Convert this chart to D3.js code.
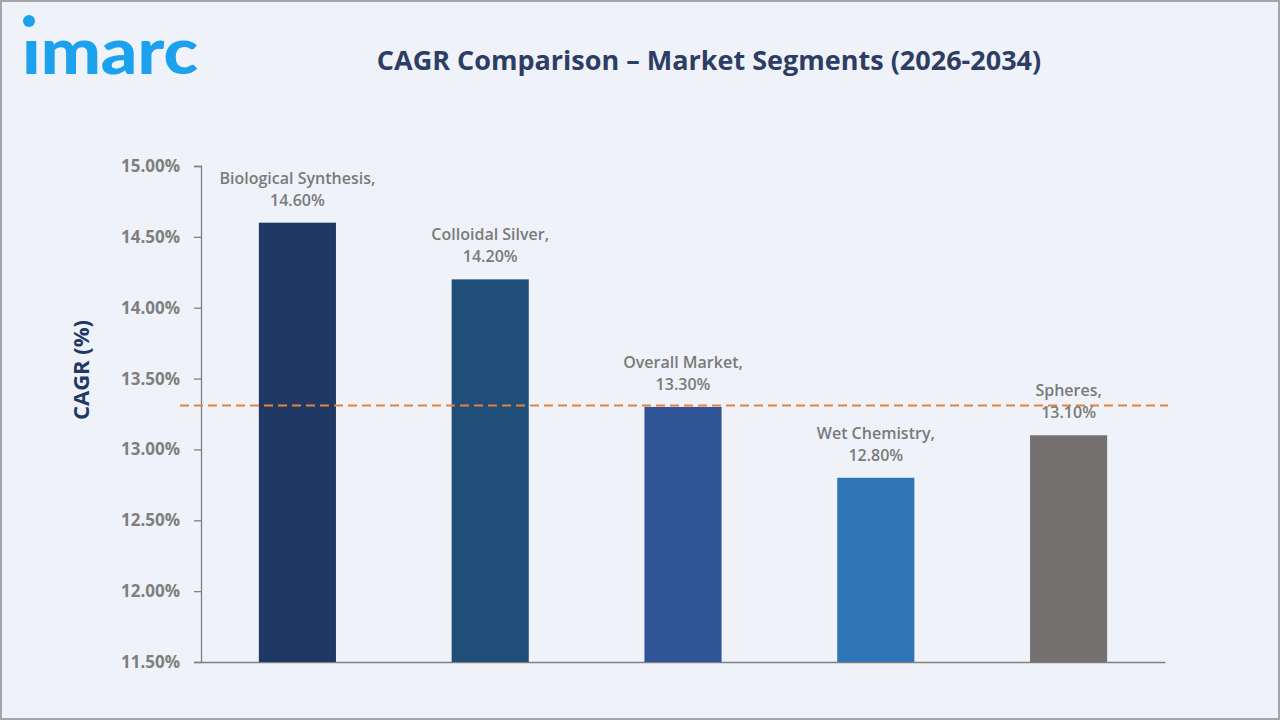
<!DOCTYPE html>
<html><head><meta charset="utf-8">
<script src="https://cdn.jsdelivr.net/npm/d3@7"></script>
<style>html,body{margin:0;padding:0;background:#eff3f9;}svg{display:block;}</style>
</head><body><svg id="c" width="1280" height="720"></svg>
<script>
const categories = ["Biological Synthesis", "Colloidal Silver", "Overall Market", "Wet Chemistry", "Spheres"];
const values = [14.60, 14.20, 13.30, 12.80, 13.10];
const barColors = ["#1f3864", "#1f4e79", "#2f5597", "#2e75b6", "#767171"];
const yTicks = [11.5, 12.0, 12.5, 13.0, 13.5, 14.0, 14.5, 15.0];
const referenceValue = 13.31;
const title = "CAGR Comparison – Market Segments (2026-2034)";
const yTitle = "CAGR (%)";

const svg = d3.select("#c");
svg.append("rect").attr("x",1).attr("y",1).attr("width",1278).attr("height",718)
  .attr("fill","#eff3f9").attr("stroke","#a6a6a6").attr("stroke-width",2);

// logo
const logo = svg.append("g");
logo.append("text").attr("x",22).attr("y",74).attr("font-family","Lato").attr("font-weight",900)
  .attr("font-size",62).attr("fill","#1ba1ee").attr("textLength",176).attr("lengthAdjust","spacingAndGlyphs")
  .text("ımarc");
logo.append("circle").attr("cx",29).attr("cy",21).attr("r",6).attr("fill","#1ba1ee");

svg.append("text").attr("x",709).attr("y",70).attr("text-anchor","middle")
  .attr("font-family","Open Sans").attr("font-weight",700).attr("font-size",27)
  .attr("fill","#2e3d63").text(title);

const x0 = 201, x1 = 1165, yTop = 166, yBot = 662;
const x = d3.scaleBand().domain(categories).range([x0, x1]).paddingInner(0.6).paddingOuter(0.3);
const y = d3.scaleLinear().domain([11.5, 15]).range([yBot, yTop]);

const yAxis = d3.axisLeft(y).tickValues(yTicks).tickSize(7).tickPadding(14).tickFormat(d => d3.format(".2f")(d) + "%");
const gy = svg.append("g").attr("transform",`translate(${x0},0)`).call(yAxis);
gy.select(".domain").attr("stroke","#7f7f7f").attr("stroke-width",1.3);
gy.selectAll(".tick line").attr("stroke","#7f7f7f").attr("stroke-width",1.3);
gy.selectAll(".tick text").attr("font-family","Open Sans").attr("font-weight",700).attr("font-size",17).attr("fill","#7f7f7f");

const xAxis = d3.axisBottom(x).tickSize(0).tickFormat("");
const gx = svg.append("g").attr("transform",`translate(0,${yBot})`).call(xAxis);
gx.select(".domain").attr("stroke","#7f7f7f").attr("stroke-width",1.3);

svg.append("text").attr("transform",`translate(89,370) rotate(-90)`).attr("text-anchor","middle")
  .attr("font-family","Open Sans").attr("font-weight",700).attr("font-size",22).attr("fill","#1f3864").text(yTitle);

svg.selectAll("rect.bar").data(categories).join("rect").attr("class","bar")
  .attr("x", d => x(d)).attr("width", x.bandwidth())
  .attr("y", (d,i) => y(values[i])).attr("height", (d,i) => yBot - y(values[i]))
  .attr("fill", (d,i) => barColors[i]);

svg.append("line").attr("x1",180).attr("x2",1168).attr("y1",y(referenceValue)).attr("y2",y(referenceValue))
  .attr("stroke","#e8823a").attr("stroke-width",2).attr("stroke-dasharray","9,5");

const lab = svg.selectAll("g.lab").data(categories).join("g").attr("class","lab");
lab.append("text").attr("x", d => x(d) + x.bandwidth()/2).attr("y", (d,i) => y(values[i]) - 39)
  .attr("text-anchor","middle").attr("font-family","Open Sans").attr("font-weight",600).attr("font-size",16)
  .attr("fill","#7a7a7a").text(d => d + ",");
lab.append("text").attr("x", d => x(d) + x.bandwidth()/2).attr("y", (d,i) => y(values[i]) - 17)
  .attr("text-anchor","middle").attr("font-family","Open Sans").attr("font-weight",600).attr("font-size",16)
  .attr("fill","#7a7a7a").text((d,i) => d3.format(".2f")(values[i]) + "%");
</script></body></html>
